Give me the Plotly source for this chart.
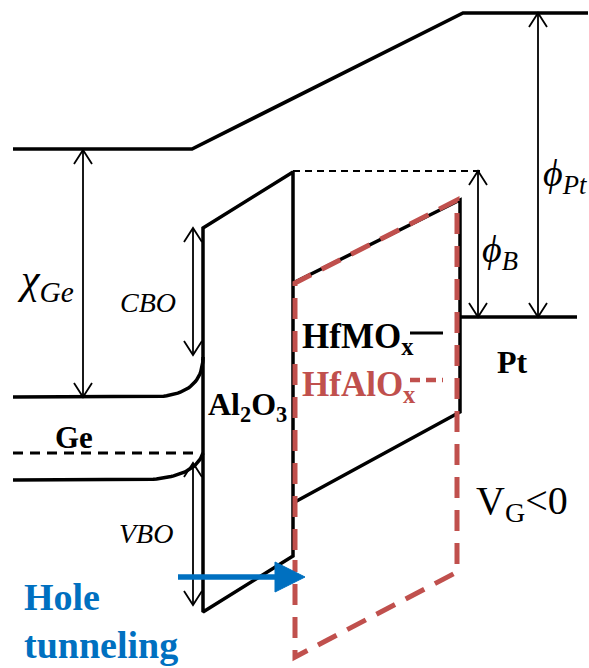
import numpy as np
import plotly.graph_objects as go

W, H = 589, 668
FONT = "Liberation Serif"
BLACK = "#000000"
RED = "#C0504D"
BLUE = "#0070C0"

# ---- band-diagram geometry (pixel-like units, y downward) ----
vacuum_x = [13, 192, 463, 588]
vacuum_y = [149, 149, 13, 13]

ge_cb_x = [13, 150]
ge_cb_y = [397, 397]
ge_cb_curve = [(150, 397), (203, 397), (203, 357)]   # bezier ctrl pts

ge_vb_x = [13, 143]
ge_vb_y = [480, 480]
ge_vb_curve = [(143, 480), (195, 478), (203, 453)]

ge_ef_x = [13, 200]
ge_ef_y = [453, 453]

al2o3_x = [293, 293, 203, 203, 293, 293]
al2o3_y = [555, 172, 228, 612, 556, 550]

cnl_x = [293, 485]
cnl_y = [171, 171]

hfmo_x = [293, 460, 460, 293]
hfmo_y = [283, 200, 412, 503]

hfalo_x = [295, 295, 457, 457, 295, 295]
hfalo_y = [550, 283, 200, 572, 657, 560]

pt_x = [460, 577]
pt_y = [317, 317]

# double-headed arrows: (x, y_top, y_bottom)
arrow_x = [83, 193, 193, 478, 538]
arrow_top = [150, 228, 463, 171, 13]
arrow_bot = [397, 355, 605, 317, 317]

legend_line_x = [410, 443]
legend_m_y = 333
legend_al_y = 380

hole_x = [178, 305]
hole_y = 577

fig = go.Figure()

def add_line(xs, ys, color=BLACK, width=3.5, dash="solid"):
    fig.add_trace(go.Scatter(x=xs, y=ys, mode="lines",
                             line=dict(color=color, width=width, dash=dash),
                             hoverinfo="skip", showlegend=False))

def bezier(pts, n=30):
    p0, p1, p2 = [np.array(p, float) for p in pts]
    t = np.linspace(0, 1, n)[:, None]
    b = (1 - t) ** 2 * p0 + 2 * (1 - t) * t * p1 + t ** 2 * p2
    return list(b[:, 0]), list(b[:, 1])

# vacuum level
add_line(vacuum_x, vacuum_y, width=3.6)
# Ge bands
bx, by = bezier(ge_cb_curve)
add_line(ge_cb_x + bx, ge_cb_y + by)
bx, by = bezier(ge_vb_curve)
add_line(ge_vb_x + bx, ge_vb_y + by)
add_line(ge_ef_x, ge_ef_y, width=2.8, dash="10px,7px")
# Al2O3
add_line(al2o3_x, al2o3_y)
# CNL dashed
add_line(cnl_x, cnl_y, width=2, dash="7px,5px")
# HfMOx
add_line(hfmo_x, hfmo_y)
# HfAlOx red dashed
add_line(hfalo_x, hfalo_y, color=RED, width=5, dash="21px,12px")
# Pt Fermi level
add_line(pt_x, pt_y)

# double arrows (shafts + open V heads)
HL, HW = 14, 9
ax_, ay_ = [], []
for x, yt, yb in zip(arrow_x, arrow_top, arrow_bot):
    ax_ += [x, x, None]
    ay_ += [yt, yb, None]
    ax_ += [x - HW, x, x + HW, None]
    ay_ += [yt + HL, yt, yt + HL, None]
    ax_ += [x - HW, x, x + HW, None]
    ay_ += [yb - HL, yb, yb - HL, None]
add_line(ax_, ay_, width=1.8)

# legend mini-lines
add_line(legend_line_x, [legend_m_y] * 2, width=2.8)
add_line(legend_line_x, [legend_al_y] * 2, color=RED, width=4.5, dash="10px,6px")

# hole tunneling arrow
add_line([hole_x[0], hole_x[1] - 28], [hole_y] * 2, color=BLUE, width=5.5)
fig.add_trace(go.Scatter(x=[hole_x[1] - 30, hole_x[1], hole_x[1] - 30, hole_x[1] - 30],
                         y=[hole_y - 15, hole_y, hole_y + 15, hole_y - 15],
                         mode="lines", fill="toself", fillcolor=BLUE,
                         line=dict(color=BLUE, width=1), hoverinfo="skip",
                         showlegend=False))

def txt(x, y, s, size, color=BLACK, xanchor="center"):
    fig.add_annotation(x=x, y=y, text=s, showarrow=False, xanchor=xanchor,
                       yanchor="middle", font=dict(family=FONT, size=size, color=color))

txt(15, 282, "<i>χ</i><sub><i>Ge</i></sub>", 42, xanchor="left")
txt(148, 302, "<i>CBO</i>", 28)
txt(146, 533, "<i>VBO</i>", 28)
txt(74, 437, "<b>Ge</b>", 31)
txt(247, 406, "<b>Al<sub>2</sub>O<sub>3</sub></b>", 32)
txt(300, 338, "<b>HfMO<sub>x</sub></b>", 35, xanchor="left")
txt(300, 386, "<b>HfAlO<sub>x</sub></b>", 35, color=RED, xanchor="left")
txt(512, 362, "<b>Pt</b>", 32)
txt(480, 252, "<i>ϕ</i><sub><i>B</i></sub>", 38, xanchor="left")
txt(541, 176, "<i>ϕ</i><sub><i>Pt</i></sub>", 38, xanchor="left")
txt(522, 503, "V<sub>G</sub><0", 40)
txt(22, 597, "<b>Hole</b>", 38, color=BLUE, xanchor="left")
txt(22, 645, "<b>tunneling</b>", 38, color=BLUE, xanchor="left")

fig.update_layout(
    width=W, height=H, margin=dict(l=0, r=0, t=0, b=0),
    paper_bgcolor="white", plot_bgcolor="white",
    xaxis=dict(range=[0, W], visible=False, fixedrange=True),
    yaxis=dict(range=[H, 0], visible=False, fixedrange=True),
)
fig.write_html("out.html", config={"displayModeBar": False},
               post_script="document.body.style.margin='0';"
                           "document.body.style.overflow='hidden';")
